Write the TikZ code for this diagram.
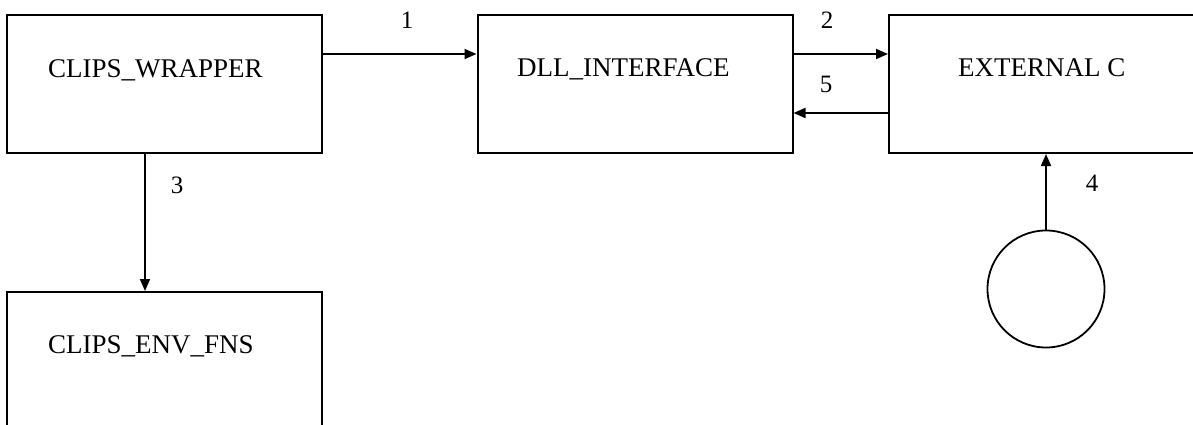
\documentclass[tikz,border=0pt]{standalone}
\usepackage{fontspec}
\setmainfont{Liberation Serif}
\usetikzlibrary{arrows.meta}
\begin{document}
\begin{tikzpicture}[x=1pt,y=1pt,
  boxstyle/.style={draw, line width=2pt, rectangle, minimum width=315pt, minimum height=138pt, inner sep=0pt},
  txt/.style={anchor=base west, inner sep=0pt, font=\fontsize{27}{32}\selectfont},
  lbl/.style={anchor=base, inner sep=0pt, font=\fontsize{25}{30}\selectfont},
  arr/.style={line width=1.8pt, -{Triangle[length=12pt,width=10pt]}}]
\useasboundingbox (0,0) rectangle (1193,-425);
\fill[white] (0,0) rectangle (1193,-425);
\node[boxstyle] (wrap) at (164.5,-84) {};
\node[boxstyle] (dll) at (635,-84) {};
\node[boxstyle] (ext) at (1046.5,-84) {};
\node[boxstyle] (env) at (164.5,-361) {};
\node[draw, line width=1.8pt, circle, minimum size=117pt, inner sep=0pt] (circ) at (1046,-289) {};
\node[txt] (t1) at (48,-78) {CLIPS\_WRAPPER};
\node[txt] (t2) at (517,-77) {DLL\_INTERFACE};
\node[txt] (t3) at (958,-77) {EXTERNAL C};
\node[txt] (t4) at (48,-353) {CLIPS\_ENV\_FNS};
\draw[arr] ([yshift=30pt]wrap.east) -- ([yshift=30pt]dll.west);
\draw[arr] ([yshift=30pt]dll.east) -- ([yshift=30pt]ext.west);
\draw[arr] ([yshift=-29pt]ext.west) -- ([yshift=-29pt]dll.east);
\draw[arr] ([xshift=-19.5pt]wrap.south) -- ([xshift=-19.5pt]env.north);
\draw[arr] (circ.north) -- (circ.north |- ext.south);
\node[lbl] (l1) at (407,-29) {1};
\node[lbl] (l2) at (827,-29) {2};
\node[lbl] (l5) at (826,-93) {5};
\node[lbl] (l3) at (177,-193) {3};
\node[lbl] (l4) at (1092,-191) {4};
\end{tikzpicture}
\end{document}
